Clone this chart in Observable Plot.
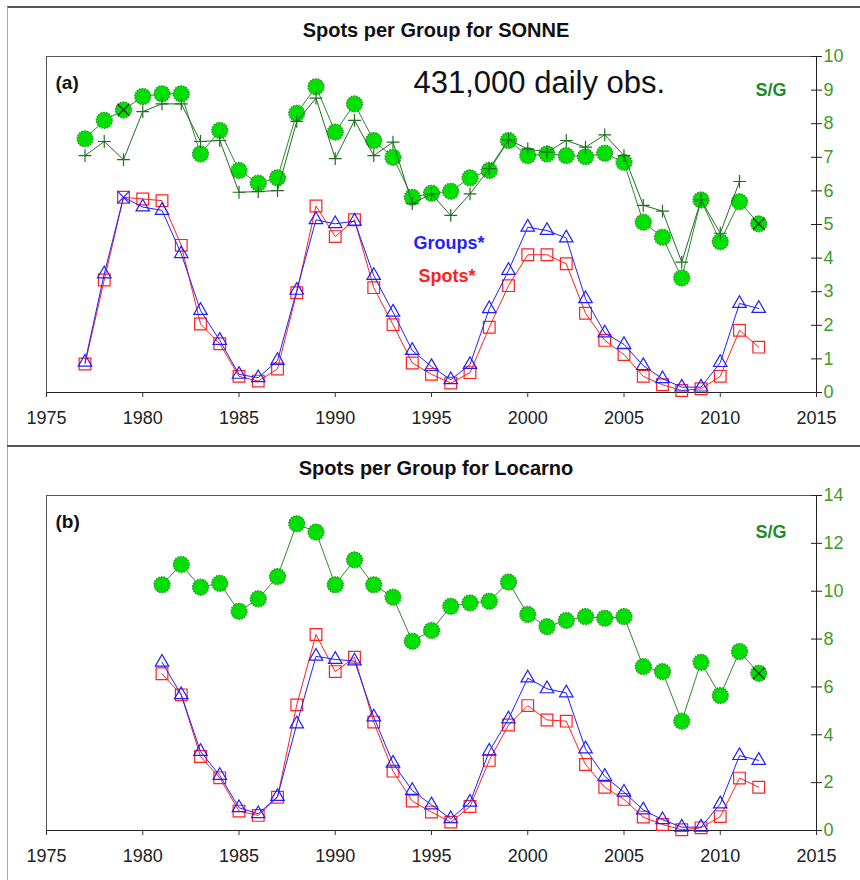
<!DOCTYPE html>
<html>
<head>
<meta charset="utf-8">
<script src="https://cdn.jsdelivr.net/npm/d3@7"></script>
<script src="https://cdn.jsdelivr.net/npm/@observablehq/plot@0.6"></script>
<style>
  html, body { margin: 0; padding: 0; background: #fff; }
  #wrap { position: relative; width: 860px; height: 880px; background: #fff; overflow: hidden; }
  .title { position: absolute; transform: translateX(-50%); white-space: nowrap;
           font-family: "Liberation Sans", Arial, sans-serif; font-weight: bold; font-size: 20px; color: #111; }
  .hline { position: absolute; left: 7px; right: 0; height: 2px; background: #555; }
  .vline { position: absolute; left: 7px; top: 7px; bottom: 0; width: 1px; background: #aaa; }
  .panel { position: absolute; left: 0; }
</style>
</head>
<body>
<div id="wrap">
  <div class="hline" style="top:6px"></div>
  <div class="vline"></div>
  <div class="title" style="left:436px; top:19px">Spots per Group for SONNE</div>
  <div class="panel" id="pa" style="top:44px"></div>
  <div class="hline" style="top:445px"></div>
  <div class="title" style="left:436px; top:457px">Spots per Group for Locarno</div>
  <div class="panel" id="pb" style="top:483px"></div>
</div>
<script>
// ---------- DATA ----------
const xTicks = [1975, 1980, 1985, 1990, 1995, 2000, 2005, 2010, 2015];
const yTicksA = [0, 1, 2, 3, 4, 5, 6, 7, 8, 9, 10];
const yTicksB = [0, 2, 4, 6, 8, 10, 12, 14];

// Panel (a): SONNE
const yearsA = [1977, 1978, 1979, 1980, 1981, 1982, 1983, 1984, 1985, 1986, 1987, 1988,
                1989, 1990, 1991, 1992, 1993, 1994, 1995, 1996, 1997, 1998, 1999, 2000,
                2001, 2002, 2003, 2004, 2005, 2006, 2007, 2008, 2009, 2010, 2011, 2012];
const sgA = [7.55, 8.10, 8.41, 8.81, 8.89, 8.89, 7.10, 7.80, 6.61, 6.23, 6.39, 8.31,
             9.10, 7.75, 8.59, 7.50, 7.00, 5.81, 5.93, 5.99, 6.39, 6.61, 7.50, 7.05,
             7.10, 7.05, 7.02, 7.12, 6.85, 5.07, 4.62, 3.41, 5.73, 4.49, 5.68, 5.02];
const yearsPlusA = [1977, 1978, 1979, 1980, 1981, 1982, 1983, 1984, 1985, 1986, 1987, 1988,
                    1989, 1990, 1991, 1992, 1993, 1994, 1995, 1996, 1997, 1998, 1999, 2000,
                    2001, 2002, 2003, 2004, 2005, 2006, 2007, 2008, 2009, 2010, 2011];
const sgPlusA = [7.05, 7.47, 6.93, 8.36, 8.59, 8.59, 7.47, 7.50, 5.96, 5.98, 6.01, 8.07,
                 8.76, 6.96, 8.10, 7.05, 7.45, 5.62, 5.91, 5.27, 5.91, 6.66, 7.52, 7.25,
                 7.15, 7.50, 7.30, 7.67, 7.05, 5.57, 5.40, 3.88, 5.73, 4.74, 6.28];
const spotsA = [0.85, 3.35, 5.81, 5.76, 5.71, 4.38, 2.04, 1.45, 0.48, 0.34, 0.70, 2.97,
                5.55, 4.64, 5.14, 3.12, 2.02, 0.88, 0.54, 0.28, 0.59, 1.94, 3.18, 4.10,
                4.10, 3.83, 2.36, 1.55, 1.13, 0.48, 0.23, 0.06, 0.11, 0.48, 1.85, 1.35];
const groupsA = [0.90, 3.53, 5.81, 5.52, 5.42, 4.13, 2.44, 1.55, 0.54, 0.44, 0.95, 3.04,
                 5.14, 5.02, 5.10, 3.48, 2.39, 1.25, 0.77, 0.38, 0.83, 2.49, 3.63, 4.92,
                 4.82, 4.60, 2.79, 1.77, 1.43, 0.80, 0.41, 0.16, 0.16, 0.89, 2.65, 2.50];
const crossedSgA = [1979, 2012];
const crossedGroupsA = [1979];

// Panel (b): Locarno
const yearsB = [1981, 1982, 1983, 1984, 1985, 1986, 1987, 1988, 1989, 1990, 1991, 1992,
                1993, 1994, 1995, 1996, 1997, 1998, 1999, 2000, 2001, 2002, 2003, 2004,
                2005, 2006, 2007, 2008, 2009, 2010, 2011, 2012];
const sgB = [10.27, 11.12, 10.17, 10.33, 9.16, 9.68, 10.61, 12.82, 12.47, 10.27, 11.31, 10.27,
             9.75, 7.91, 8.36, 9.37, 9.51, 9.58, 10.38, 9.03, 8.52, 8.78, 8.94, 8.87,
             8.94, 6.85, 6.64, 4.57, 7.03, 5.64, 7.48, 6.57];
const spotsB = [6.55, 5.67, 3.09, 2.20, 0.81, 0.63, 1.39, 5.25, 8.19, 6.64, 7.24, 4.53,
                2.48, 1.23, 0.77, 0.35, 1.00, 2.93, 4.41, 5.22, 4.62, 4.57, 2.76, 1.81,
                1.30, 0.56, 0.25, 0.03, 0.11, 0.58, 2.19, 1.81];
const groupsB = [7.03, 5.67, 3.30, 2.30, 0.95, 0.70, 1.42, 4.45, 7.28, 7.15, 7.08, 4.74,
                 2.81, 1.67, 1.07, 0.49, 1.18, 3.31, 4.66, 6.37, 5.92, 5.75, 3.41, 2.26,
                 1.60, 0.86, 0.45, 0.14, 0.14, 1.11, 3.13, 2.93];
const crossedSgB = [2012];

// ---------- STYLE ----------
const GREEN_LINE = "#2b8a2b", PLUS_GREEN = "#1f6f1f", LIME = "#00e000";
const RED = "#ff2020", BLUE = "#1f1fff", TICK_GREEN = "#3f9a2a", SG_GREEN = "#1e8c1e";
const W = 860, ML = 46, MR = 44;
const narrow = "'Liberation Sans Narrow', 'Liberation Sans', Arial, sans-serif";
const sans = "'Liberation Sans', Arial, sans-serif";

function rows(years, vals) { return years.map((x, i) => ({x, y: vals[i]})); }

function panel({yDomain, yTicks, plotH, sg, sgPlus, spots, groups, crossedSg, crossedGroups, tag, obs, sgDy}) {
  const height = 12 + plotH + 40;
  const innerW = W - ML - MR;
  const marks = [
    Plot.frame({stroke: "#555"}),
    Plot.ruleY([yDomain[0]], {stroke: "#222"}),
    Plot.ruleX([2015], {stroke: "#222"}),
    Plot.axisX({ticks: xTicks, tickFormat: "d", tickSize: 5, tickPadding: 14, label: null,
                fill: "#222", stroke: "#333", fontSize: 18, fontFamily: narrow}),
    Plot.axisY({anchor: "right", ticks: yTicks, tickSize: 5, tickPadding: 2, label: null,
                fill: TICK_GREEN, stroke: "#222", fontSize: 18, fontFamily: narrow}),
    Plot.tickY(yTicks, {y: d => d, insetLeft: innerW - 5, stroke: "#222"}),
    // S/G circles
    Plot.line(sg, {x: "x", y: "y", stroke: GREEN_LINE, strokeWidth: 1}),
    Plot.dot(sg, {x: "x", y: "y", r: 8, fill: LIME, stroke: GREEN_LINE, strokeWidth: 1.2,
                  strokeDasharray: "1.6 1.2"}),
    Plot.dot(sg.filter(d => crossedSg.includes(d.x)), {x: "x", y: "y", symbol: "times", r: 5.2,
                  stroke: "#0b3d0b", strokeWidth: 1.4}),
  ];
  if (sgPlus) {
    marks.push(
      Plot.line(sgPlus, {x: "x", y: "y", stroke: PLUS_GREEN, strokeWidth: 1}),
      Plot.dot(sgPlus, {x: "x", y: "y", symbol: "plus", r: 4.2, stroke: PLUS_GREEN, strokeWidth: 1.2})
    );
  }
  marks.push(
    Plot.line(spots, {x: "x", y: "y", stroke: RED, strokeWidth: 1}),
    Plot.dot(spots, {x: "x", y: "y", symbol: "square", r: 6.6, stroke: RED, fill: "none", strokeWidth: 1.2}),
    Plot.line(groups, {x: "x", y: "y", stroke: BLUE, strokeWidth: 1}),
    Plot.dot(groups.filter(d => !crossedGroups.includes(d.x)), {x: "x", y: "y", symbol: "triangle", r: 5,
                  stroke: BLUE, fill: "none", strokeWidth: 1.2}),
    Plot.dot(groups.filter(d => crossedGroups.includes(d.x)), {x: "x", y: "y", symbol: "times", r: 5.6,
                  stroke: BLUE, strokeWidth: 1.2}),
    Plot.text([tag], {text: d => d, frameAnchor: "top-left", dx: 9, dy: 26, textAnchor: "start",
                  lineAnchor: "middle", fontSize: 19, fontWeight: "bold", fontFamily: sans, fill: "#111"}),
    Plot.text(["S/G"], {text: d => d, frameAnchor: "top-left", dx: 709, dy: sgDy, textAnchor: "start",
                  lineAnchor: "middle", fontSize: 18, fontWeight: "bold", fontFamily: sans, fill: SG_GREEN})
  );
  if (obs) {
    marks.push(
      Plot.text([obs], {text: d => d, frameAnchor: "top-left", dx: 367, dy: 27, textAnchor: "start",
                    lineAnchor: "middle", fontSize: 31, fontFamily: sans, fill: "#111"}),
      Plot.text(["Groups*"], {text: d => d, frameAnchor: "top-left", dx: 367, dy: 187, textAnchor: "start",
                    lineAnchor: "middle", fontSize: 18, fontWeight: "bold", fontFamily: sans, fill: BLUE}),
      Plot.text(["Spots*"], {text: d => d, frameAnchor: "top-left", dx: 372, dy: 220, textAnchor: "start",
                    lineAnchor: "middle", fontSize: 18, fontWeight: "bold", fontFamily: sans, fill: RED})
    );
  }
  return Plot.plot({
    width: W, height,
    marginLeft: ML, marginRight: MR, marginTop: 12, marginBottom: 40,
    x: {domain: [1975, 2015]},
    y: {domain: yDomain},
    style: {background: "transparent", overflow: "visible", fontFamily: narrow},
    marks
  });
}

document.getElementById("pa").appendChild(panel({
  yDomain: [0, 10], yTicks: yTicksA, plotH: 336,
  sg: rows(yearsA, sgA), sgPlus: rows(yearsPlusA, sgPlusA),
  spots: rows(yearsA, spotsA), groups: rows(yearsA, groupsA),
  crossedSg: crossedSgA, crossedGroups: crossedGroupsA,
  tag: "(a)", obs: "431,000 daily obs.", sgDy: 34
}));
document.getElementById("pb").appendChild(panel({
  yDomain: [0, 14], yTicks: yTicksB, plotH: 335,
  sg: rows(yearsB, sgB), sgPlus: null,
  spots: rows(yearsB, spotsB), groups: rows(yearsB, groupsB),
  crossedSg: crossedSgB, crossedGroups: [],
  tag: "(b)", obs: null, sgDy: 37
}));
</script>
</body>
</html>
